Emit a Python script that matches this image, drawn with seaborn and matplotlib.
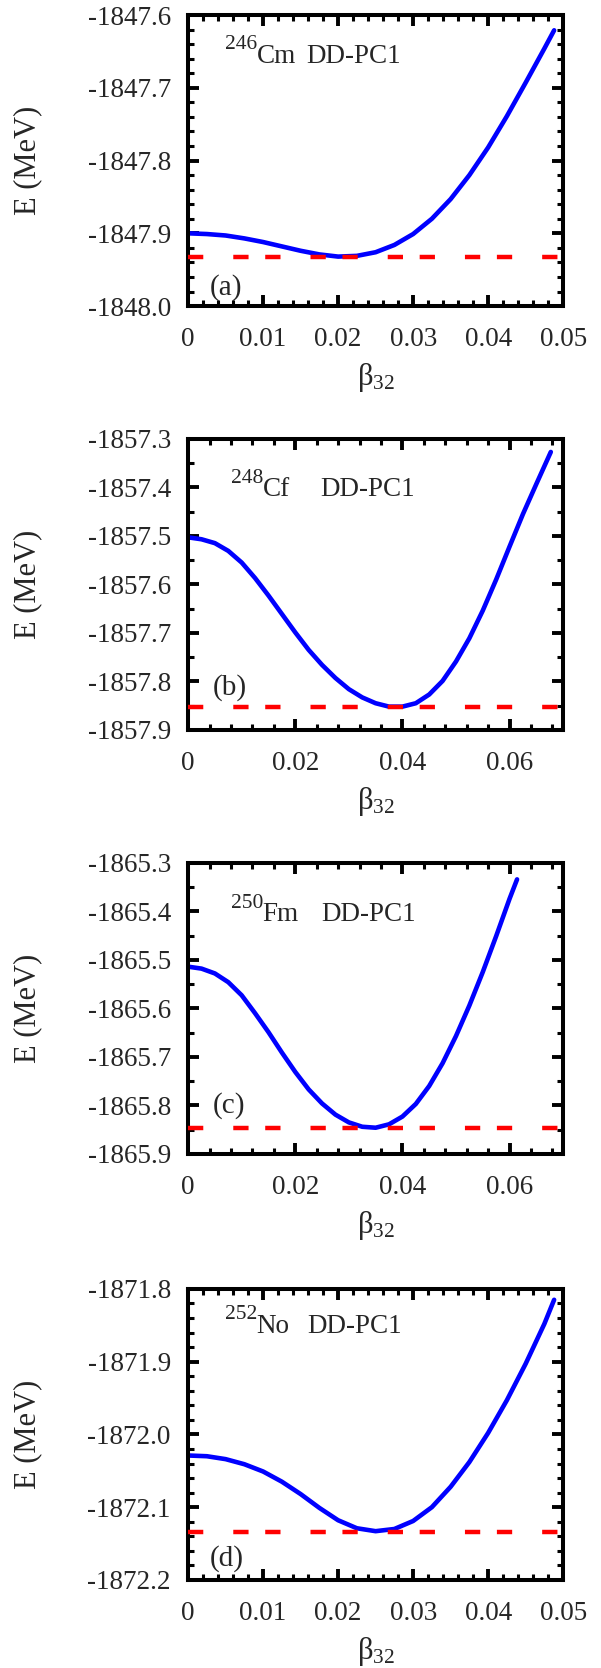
import matplotlib
matplotlib.use("Agg")
import matplotlib.pyplot as plt
from matplotlib.ticker import MultipleLocator, FuncFormatter, FormatStrFormatter
from matplotlib.transforms import offset_copy
import seaborn as sns

# ---- Data (beta_32, energy in MeV) ----
beta_cm = [0.0, 0.0025, 0.005, 0.0075, 0.01, 0.0125, 0.015, 0.0175, 0.02, 0.0225,
           0.025, 0.0275, 0.03, 0.0325, 0.035, 0.0375, 0.04, 0.0425, 0.045, 0.0475,
           0.0488]
E_cm = [-1847.900, -1847.901, -1847.903, -1847.907, -1847.912, -1847.918, -1847.924,
        -1847.929, -1847.932, -1847.931, -1847.926, -1847.916, -1847.901, -1847.880,
        -1847.853, -1847.820, -1847.782, -1847.739, -1847.693, -1847.646, -1847.621]

beta_cf = [0.0, 0.0025, 0.005, 0.0075, 0.01, 0.0125, 0.015, 0.0175, 0.02, 0.0225,
           0.025, 0.0275, 0.03, 0.0325, 0.035, 0.0375, 0.04, 0.0425, 0.045, 0.0475,
           0.05, 0.0525, 0.055, 0.0575, 0.06, 0.0625, 0.065, 0.0677]
E_cf = [-1857.503, -1857.507, -1857.515, -1857.531, -1857.555, -1857.587, -1857.623,
        -1857.661, -1857.699, -1857.735, -1857.766, -1857.793, -1857.816, -1857.833,
        -1857.845, -1857.852, -1857.852, -1857.845, -1857.827, -1857.799, -1857.759,
        -1857.711, -1857.654, -1857.590, -1857.522, -1857.455, -1857.393, -1857.327]

beta_fm = [0.0, 0.0025, 0.005, 0.0075, 0.01, 0.0125, 0.015, 0.0175, 0.02, 0.0225,
           0.025, 0.0275, 0.03, 0.0325, 0.035, 0.0375, 0.04, 0.0425, 0.045, 0.0475,
           0.05, 0.0525, 0.055, 0.0575, 0.06, 0.0614]
E_fm = [-1865.514, -1865.518, -1865.528, -1865.546, -1865.573, -1865.610, -1865.649,
        -1865.691, -1865.731, -1865.767, -1865.796, -1865.819, -1865.835, -1865.844,
        -1865.846, -1865.839, -1865.823, -1865.797, -1865.760, -1865.713, -1865.657,
        -1865.594, -1865.525, -1865.451, -1865.374, -1865.334]

beta_no = [0.0, 0.0025, 0.005, 0.0075, 0.01, 0.0125, 0.015, 0.0175, 0.02, 0.0225,
           0.025, 0.0275, 0.03, 0.0325, 0.035, 0.0375, 0.04, 0.0425, 0.045, 0.0475,
           0.0488]
E_no = [-1872.029, -1872.030, -1872.034, -1872.041, -1872.051, -1872.065, -1872.082,
        -1872.101, -1872.118, -1872.129, -1872.133, -1872.130, -1872.119, -1872.100,
        -1872.072, -1872.038, -1871.998, -1871.953, -1871.903, -1871.848, -1871.815]

# minimum energy (red dashed reference line)
E_min = [-1847.932, -1857.853, -1865.846, -1872.134]

mass_numbers = ["246", "248", "250", "252"]
elements = ["Cm", "Cf", "Fm", "No"]
panel_tags = ["(a)", "(b)", "(c)", "(d)"]

# ---- Per-panel axis settings ----
x_max = [0.05, 0.07, 0.07, 0.05]
x_major = [0.01, 0.02, 0.02, 0.01]
x_minor = [0.002, 0.004, 0.004, 0.002]
y_ranges = [(-1848.0, -1847.6), (-1857.9, -1857.3), (-1865.9, -1865.3), (-1872.2, -1871.8)]
y_minor = [0.02, 0.05, 0.05, 0.02]

# text positions in axes fraction
sup_x = [0.099, 0.114, 0.114, 0.099]
elem_x = [0.184, 0.200, 0.199, 0.183]
label_y = [0.836, 0.804, 0.800, 0.849]
dd_x = [0.316, 0.352, 0.355, 0.319]
tag_pos = [(0.057, 0.038), (0.066, 0.120), (0.066, 0.143), (0.057, 0.050)]

# axes boxes (figure fraction)
AX_LEFT, AX_W, AX_H = 0.313, 0.624, 0.1745
bottoms = [0.8165, 0.5624, 0.3082, 0.0528]

sns.set_style("ticks")
plt.rcParams["font.family"] = ["Liberation Serif", "DejaVu Serif"]
plt.rcParams["mathtext.fontset"] = "custom"
plt.rcParams["mathtext.rm"] = "Liberation Serif"
plt.rcParams["axes.unicode_minus"] = False
plt.rcParams["lines.scale_dashes"] = False


def zero_fmt(v, _):
    return "0" if abs(v) < 1e-12 else f"{v:.2f}"


fig = plt.figure(figsize=(6.01, 16.68), dpi=100)

series = [(beta_cm, E_cm), (beta_cf, E_cf), (beta_fm, E_fm), (beta_no, E_no)]

for i, (bx, ey) in enumerate(series):
    ax = fig.add_axes([AX_LEFT, bottoms[i], AX_W, AX_H])

    sns.lineplot(x=bx, y=ey, ax=ax, color="#0000ff", lw=3.3, sort=False,
                 estimator=None, zorder=2)
    ax.axhline(E_min[i], color="#ff0000", lw=3.2, dashes=(11, 21.6, 11, 12),
               zorder=3)

    ax.set_xlim(0, x_max[i])
    ax.set_ylim(*y_ranges[i])

    ax.xaxis.set_major_locator(MultipleLocator(x_major[i]))
    ax.xaxis.set_minor_locator(MultipleLocator(x_minor[i]))
    ax.yaxis.set_major_locator(MultipleLocator(0.1))
    ax.yaxis.set_minor_locator(MultipleLocator(y_minor[i]))
    ax.xaxis.set_major_formatter(FuncFormatter(zero_fmt))
    ax.yaxis.set_major_formatter(FormatStrFormatter("%.1f"))

    ax.tick_params(which="both", direction="in", top=True, right=True,
                   color="black")
    ax.tick_params(which="major", length=8, width=2.8, labelsize=19.5)
    ax.tick_params(axis="x", which="major", pad=15)
    ax.tick_params(axis="y", which="major", pad=12.5)
    ax.tick_params(which="minor", length=4.3, width=2.2)
    for sp in ax.spines.values():
        sp.set_linewidth(2.9)
        sp.set_color("black")

    ax.set_xlabel(r"β$\mathregular{_{32}}$", fontsize=22)
    ax.set_ylabel("E (MeV)", fontsize=22)
    ax.xaxis.set_label_coords(0.5, -0.189)
    ax.yaxis.set_label_coords(-0.39, 0.5)

    # isotope label: raised mass number + element symbol, then functional name
    raised = offset_copy(ax.transAxes, fig=fig, y=9.6, units="points")
    ax.text(sup_x[i], label_y[i], mass_numbers[i], transform=raised,
            fontsize=15.5, va="baseline", ha="left")
    ax.text(elem_x[i], label_y[i], elements[i], transform=ax.transAxes,
            fontsize=19.5, va="baseline", ha="left")
    ax.text(dd_x[i], label_y[i], "DD-PC1", transform=ax.transAxes,
            fontsize=19.5, va="baseline", ha="left")
    ax.text(tag_pos[i][0], tag_pos[i][1], panel_tags[i], transform=ax.transAxes,
            fontsize=21, va="baseline", ha="left")

fig.savefig("out.png", dpi=100)
